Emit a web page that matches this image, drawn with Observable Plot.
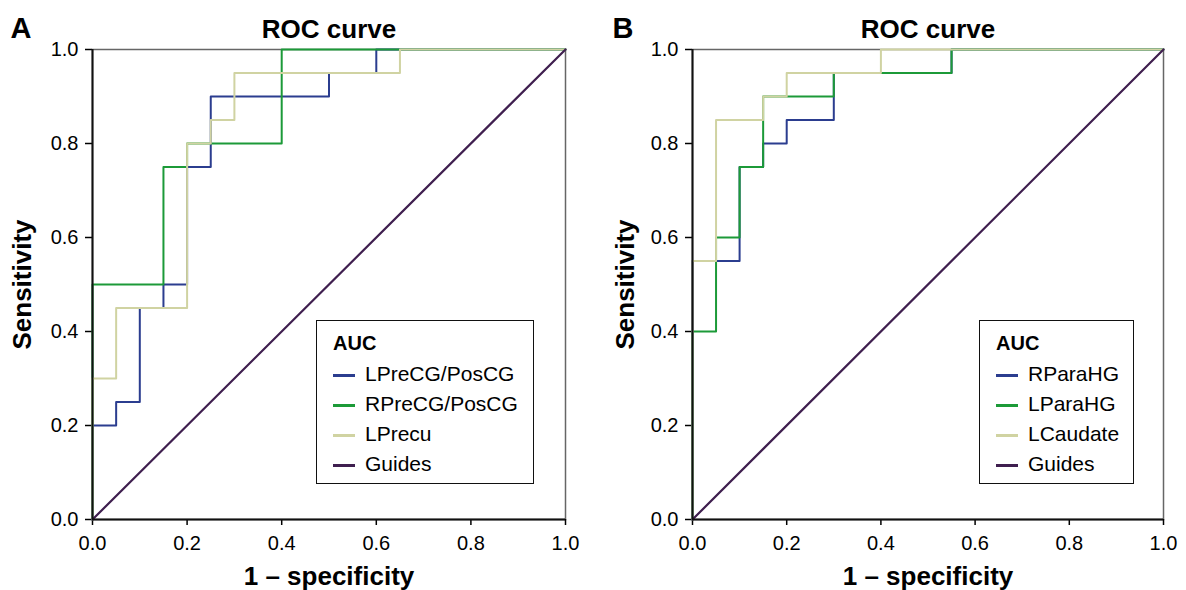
<!DOCTYPE html>
<html>
<head>
<meta charset="utf-8">
<script src="https://cdn.jsdelivr.net/npm/d3@7"></script>
<script src="https://cdn.jsdelivr.net/npm/@observablehq/plot@0.6"></script>
<style>
  body { margin: 0; background: white; font-family: "Liberation Sans", Arial, sans-serif; }
  #wrap { position: relative; width: 1186px; height: 590px; overflow: hidden; }
  .panel { position: absolute; top: 0; }
  .legend { position: absolute; border: 1.5px solid #111; background: white; box-sizing: border-box; }
  .legend .ttl { position: absolute; font-weight: bold; font-size: 20px; }
  .legend .row { position: absolute; font-size: 21px; white-space: nowrap; }
  .legend .sw { position: absolute; height: 3px; width: 22px; }
</style>
</head>
<body>
<div id="wrap">
  <div id="pa" class="panel" style="left:0"></div>
  <div id="pb" class="panel" style="left:593px"></div>
</div>
<script>
// ---------- data ----------
const xTicks = [0, 0.2, 0.4, 0.6, 0.8, 1.0];
const yTicks = [0, 0.2, 0.4, 0.6, 0.8, 1.0];
const guideFpr = [0, 1];
const guideTpr = [0, 1];

// Panel A
const aNames = ["LPreCG/PosCG", "RPreCG/PosCG", "LPrecu", "Guides"];
const aBlueFpr   = [0, 0, 0.05, 0.10, 0.15, 0.20, 0.25, 0.50, 0.60, 1];
const aBlueTpr   = [0, 0.20, 0.25, 0.45, 0.50, 0.75, 0.90, 0.95, 1, 1];
const aGreenFpr  = [0, 0, 0.15, 0.20, 0.40, 1];
const aGreenTpr  = [0, 0.50, 0.75, 0.80, 1, 1];
const aYellowFpr = [0, 0, 0.05, 0.20, 0.25, 0.30, 0.65, 1];
const aYellowTpr = [0, 0.30, 0.45, 0.80, 0.85, 0.95, 1, 1];

// Panel B
const bNames = ["RParaHG", "LParaHG", "LCaudate", "Guides"];
const bBlueFpr   = [0, 0, 0.10, 0.15, 0.20, 0.30, 0.55, 1];
const bBlueTpr   = [0, 0.55, 0.75, 0.80, 0.85, 0.95, 1, 1];
const bGreenFpr  = [0, 0, 0.05, 0.10, 0.15, 0.30, 0.55, 1];
const bGreenTpr  = [0, 0.40, 0.60, 0.75, 0.90, 0.95, 1, 1];
const bYellowFpr = [0, 0, 0.05, 0.15, 0.20, 0.40, 1];
const bYellowTpr = [0, 0.55, 0.85, 0.90, 0.95, 1, 1];

const colors = ["#2b3d8f", "#1c9a38", "#d0d3a2", "#3f1f4f"];

// ---------- drawing ----------
const FONT = "'Liberation Sans', Arial, sans-serif";
const pts = (xs, ys) => xs.map((x, i) => ({x, y: ys[i]}));

function panel(cfg) {
  const series = cfg.series;
  return Plot.plot({
    width: 593, height: 590,
    marginLeft: cfg.ml, marginRight: cfg.mr, marginTop: 49, marginBottom: 71,
    x: {domain: [0, 1]},
    y: {domain: [0, 1]},
    style: {fontFamily: FONT, color: "black", background: "white", overflow: "visible"},
    marks: [
      Plot.frame({stroke: "#666", strokeWidth: 1.5}),
      Plot.axisX({ticks: xTicks, tickFormat: d3.format(".1f"), tickSize: 6, tickPadding: 10,
                  fontSize: 20, label: null, strokeWidth: 1.5}),
      Plot.axisY({ticks: yTicks, tickFormat: d3.format(".1f"), tickSize: 7, tickPadding: 7,
                  fontSize: 20, label: null, strokeWidth: 1.5}),
      ...series.map((s, i) => Plot.line(pts(s[0], s[1]), {
        x: "x", y: "y", curve: "step-after", stroke: colors[i], strokeWidth: 2
      })),
      Plot.line(pts(guideFpr, guideTpr), {x: "x", y: "y", stroke: colors[3], strokeWidth: 2.2}),
      Plot.ruleX([0], {stroke: "#111", strokeWidth: 2}),
      Plot.ruleY([0], {stroke: "#111", strokeWidth: 2}),
      Plot.text(["ROC curve"], {text: d => d, frameAnchor: "top", dy: -12, lineAnchor: "bottom",
                                textAnchor: "middle", fontWeight: "bold", fontSize: 26, fill: "black"}),
      Plot.text([cfg.letter], {text: d => d, frameAnchor: "top-left", dx: cfg.letterDx, dy: -12,
                               lineAnchor: "bottom", textAnchor: "start", fontWeight: "bold",
                               fontSize: 29, fill: "black"}),
      Plot.text(["1 \u2013 specificity"], {text: d => d, frameAnchor: "bottom", dy: 65, lineAnchor: "bottom",
                                        textAnchor: "middle", fontWeight: "bold", fontSize: 26, fill: "black"}),
      Plot.text(["Sensitivity"], {text: d => d, frameAnchor: "left", dx: cfg.ylabDx, rotate: -90,
                                  lineAnchor: "bottom", textAnchor: "middle",
                                  fontWeight: "bold", fontSize: 26, fill: "black"})
    ]
  });
}

document.getElementById("pa").appendChild(panel({
  ml: 92, mr: 28, letter: "A", letterDx: -82, ylabDx: -62,
  series: [[aBlueFpr, aBlueTpr], [aGreenFpr, aGreenTpr], [aYellowFpr, aYellowTpr]]
}));
document.getElementById("pb").appendChild(panel({
  ml: 99, mr: 23, letter: "B", letterDx: -80, ylabDx: -59,
  series: [[bBlueFpr, bBlueTpr], [bGreenFpr, bGreenTpr], [bYellowFpr, bYellowTpr]]
}));

// ---------- legends (HTML overlay) ----------
function legend(names, box) {
  const L = document.createElement("div");
  L.className = "legend";
  Object.assign(L.style, {left: box.left + "px", top: box.top + "px",
                          width: box.width + "px", height: box.height + "px"});
  const t = document.createElement("div");
  t.className = "ttl"; t.textContent = "AUC";
  Object.assign(t.style, {left: "16px", top: "11px"});
  L.appendChild(t);
  names.forEach((n, i) => {
    const cy = 54 + i * 30;
    const sw = document.createElement("div");
    sw.className = "sw";
    Object.assign(sw.style, {left: "16px", top: (cy - 1.5) + "px", background: colors[i]});
    L.appendChild(sw);
    const r = document.createElement("div");
    r.className = "row"; r.textContent = n;
    Object.assign(r.style, {left: "48px", top: (cy - 13) + "px"});
    L.appendChild(r);
  });
  document.getElementById("wrap").appendChild(L);
}
legend(aNames, {left: 316, top: 320, width: 218, height: 164});
legend(bNames, {left: 979, top: 320, width: 155, height: 164});
</script>
</body>
</html>
